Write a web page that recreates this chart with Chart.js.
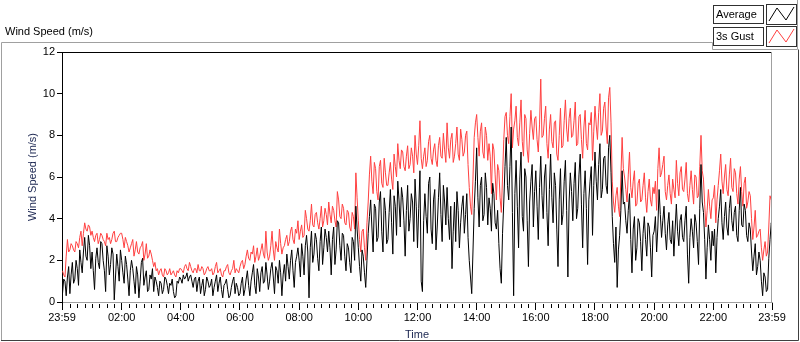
<!DOCTYPE html>
<html>
<head>
<meta charset="utf-8">
<script src="https://cdn.jsdelivr.net/npm/chart.js@4.4.1/dist/chart.umd.min.js"></script>
<style>
  html, body { margin: 0; padding: 0; background: #ffffff; }
  #wrap { position: relative; width: 800px; height: 342px; }
</style>
</head>
<body>
<div id="wrap"><canvas id="c" width="800" height="342"></canvas></div>
<script>
// ---- data (2.5-minute samples, 00:00 .. 24:00; one row per hour) ----
const intervalMinutes = 2.5;
const seriesNames = ["Average", "3s Gust"];
const avgSpeed = [
  0.4,1.1, 1.0,0.3, 1.2,1.7, 0.4,1.3, 1.9,0.9, 1.1,2.0, 1.6,0.8, 2.5,1.9, 1.4,2.4, 3.1,2.2, 2.0,3.2, 2.7,1.6,
  2.4,1.5, 0.6,2.1, 2.6,1.9, 1.6,2.9, 2.8,2.0, 1.5,0.5, 2.7,2.2, 1.3,1.8, 2.6,2.3, 0.1,1.2, 2.3,1.7, 1.0,2.5,
  2.0,1.4, 0.9,2.2, 1.8,1.1, 0.3,1.5, 2.0,1.6, 1.0,0.4, 1.7,1.3, 0.2,1.0, 1.9,2.1, 0.8,1.2, 1.5,0.5, 0.6,1.3,
  1.1,1.6, 0.5,1.2, 1.0,0.7, 0.3,1.0, 0.9,0.4, 0.6,1.2, 1.1,0.8, 0.4,0.9, 0.8,1.1, 0.5,0.2, 0.3,1.0, 0.9,1.2,
  1.1,0.9, 1.3,1.1, 1.2,1.4, 1.0,1.2, 1.3,1.0, 0.7,1.1, 1.2,0.5, 1.0,1.2, 0.4,0.8, 1.1,0.3, 0.6,1.2, 1.0,0.7,
  0.8,1.1, 0.3,0.7, 1.0,1.3, 0.5,0.9, 1.2,0.6, 0.2,0.8, 0.9,1.1, 0.6,0.2, 0.3,0.7, 1.0,1.2, 0.4,0.9, 0.7,0.3,
  0.4,0.9, 1.2,0.3, 0.6,1.1, 1.5,0.8, 0.3,1.0, 1.4,1.8, 0.8,0.4, 1.6,1.2, 0.5,1.4, 1.7,0.9, 1.0,1.9, 1.3,0.6,
  1.0,1.6, 1.9,1.2, 0.4,1.7, 1.5,0.9, 2.0,1.4, 0.3,1.3, 1.8,1.0, 2.3,1.7, 1.1,2.0, 2.5,1.5, 0.7,1.9, 2.2,2.6,
  2.0,1.2, 2.8,2.2, 1.3,2.7, 3.2,2.4, 0.2,2.6, 3.4,1.9, 2.3,3.3, 3.0,2.1, 1.5,2.9, 3.6,1.8, 2.6,3.5, 3.1,2.4,
  3.4,2.6, 1.3,3.0, 3.6,1.8, 2.5,3.9, 3.8,2.7, 2.0,3.3, 3.2,2.2, 1.5,2.8, 2.6,1.9, 1.4,3.1, 2.9,2.0, 4.6,3.5,
  2.6,1.7, 1.0,2.5, 2.2,1.4, 0.7,2.0, 3.3,4.1, 4.9,3.6, 2.4,4.7, 4.5,2.9, 3.1,4.8, 5.3,3.4, 2.4,5.0, 4.4,2.8,
  3.0,4.3, 5.4,3.8, 2.3,5.1, 4.6,3.2, 5.8,4.9, 3.6,5.5, 5.0,3.9, 2.2,4.4, 5.6,3.4, 4.0,5.2, 4.8,2.9, 5.9,4.6,
  2.6,4.5, 6.3,1.0, 0.5,3.9, 5.2,4.1, 3.3,5.7, 6.0,3.5, 2.8,4.9, 5.4,2.5, 3.6,5.0, 6.2,4.2, 2.9,5.6, 4.8,3.7,
  5.5,4.0, 3.0,4.6, 1.6,3.4, 4.8,2.9, 5.3,4.4, 2.6,3.8, 4.6,5.1, 3.3,4.2, 5.2,3.1, 2.0,1.2, 0.4,2.4, 4.5,5.8,
  7.4,5.0, 3.6,5.6, 6.0,3.9, 4.2,6.2, 5.5,3.7, 5.0,4.5, 3.4,5.7, 5.2,3.8, 3.5,4.4, 2.8,1.6, 0.9,3.3, 4.8,6.5,
  7.9,5.6, 4.9,6.5, 8.4,4.3, 0.3,5.2, 6.8,4.6, 2.6,5.9, 7.2,4.1, 3.4,6.4, 6.0,3.9, 1.7,4.8, 5.8,6.6, 3.6,5.3,
  6.3,4.6, 3.0,5.5, 7.0,5.1, 4.0,6.0, 6.6,4.3, 2.7,5.4, 7.1,5.0, 3.8,6.2, 5.6,3.5, 1.7,4.9, 6.4,3.7, 4.2,5.8,
  6.8,4.4, 1.2,4.8, 6.2,5.3, 3.9,5.7, 6.7,4.0, 4.5,6.1, 7.1,4.7, 2.6,5.2, 6.3,4.5, 1.8,4.9, 5.8,6.5, 3.2,5.6,
  7.2,5.8, 4.9,6.6, 7.6,5.0, 5.4,6.9, 7.0,5.6, 5.2,7.4, 8.0,6.2, 4.1,2.8, 1.9,3.6, 0.7,2.5, 3.2,4.4, 6.3,4.7,
  4.8,3.9, 3.3,4.4, 5.2,3.0, 1.4,3.5, 4.1,2.0, 2.6,4.0, 3.8,2.9, 1.5,3.3, 4.1,3.0, 2.2,3.8, 3.6,2.6, 1.2,3.2,
  3.4,4.1, 2.4,3.6, 5.4,4.2, 3.1,3.9, 4.6,3.3, 2.5,3.7, 4.3,3.0, 2.8,3.9, 2.2,3.5, 4.7,3.4, 2.7,3.9, 4.2,3.1,
  2.9,3.9, 4.6,2.3, 0.9,3.1, 4.0,3.4, 2.6,4.2, 3.8,2.9, 1.8,4.5, 6.6,4.8, 4.3,3.0, 1.1,2.6, 3.7,3.0, 2.0,3.4,
  2.7,3.5, 1.4,3.1, 4.0,4.6, 5.4,3.8, 3.0,4.1, 4.8,3.6, 3.2,4.5, 5.1,3.9, 3.4,4.3, 4.6,3.2, 2.9,4.4, 5.5,3.7,
  3.6,4.7, 4.4,3.2, 2.9,3.8, 3.5,2.4, 1.5,2.2, 2.8,1.3, 1.7,2.4, 2.0,1.0, 0.3,1.4, 1.2,0.5, 0.6,2.1, 3.0,3.8,
  3.6
];
const gustSpeed = [
  1.5,1.3, 1.2,2.2, 3.0,2.4, 2.5,2.8, 2.7,2.5, 2.4,2.9, 2.8,2.6, 3.1,3.4, 2.7,3.3, 3.8,3.5, 3.4,3.7, 3.6,3.2,
  3.4,3.1, 2.9,3.2, 3.3,2.8, 3.0,3.3, 3.2,3.0, 2.9,2.7, 3.3,3.0, 3.1,2.8, 3.0,3.3, 3.4,2.9, 2.9,3.1, 3.2,3.3,
  3.3,3.0, 2.6,3.1, 2.9,2.7, 2.4,2.6, 2.8,3.0, 2.2,2.5, 2.9,2.4, 2.3,2.6, 2.7,2.9, 2.0,2.3, 2.8,2.1, 2.2,2.5,
  2.3,2.0, 1.7,1.9, 1.5,1.6, 1.3,1.5, 1.6,1.3, 1.2,1.6, 1.5,1.3, 1.4,1.6, 1.3,1.4, 1.5,1.3, 1.2,1.5, 1.4,1.6,
  1.6,1.5, 1.4,1.7, 1.8,1.6, 1.5,1.9, 1.7,1.5, 1.4,1.6, 1.6,1.4, 1.8,1.5, 1.5,1.7, 1.6,1.3, 1.4,1.6, 1.7,1.5,
  1.5,1.6, 1.3,1.4, 1.7,1.9, 1.4,1.5, 1.6,1.3, 1.2,1.5, 1.5,1.7, 1.8,1.4, 1.3,1.5, 1.6,2.0, 1.4,1.6, 1.5,1.4,
  1.7,1.9, 2.0,1.6, 1.8,2.2, 2.5,2.1, 2.0,2.4, 2.3,2.7, 1.9,2.2, 2.6,2.0, 2.2,2.5, 2.8,2.3, 2.1,3.4, 2.4,2.0,
  2.2,2.7, 3.4,2.5, 2.0,2.9, 2.6,2.4, 3.5,2.8, 2.3,2.6, 2.7,3.0, 3.2,2.7, 2.9,3.4, 3.6,3.0, 2.8,3.5, 3.3,3.9,
  3.0,3.4, 3.7,3.1, 3.2,4.4, 4.0,3.5, 3.4,3.9, 4.7,3.7, 3.6,4.2, 4.3,3.8, 3.5,4.0, 4.6,3.6, 3.9,4.5, 4.2,3.7,
  4.8,4.2, 3.8,4.6, 4.4,3.9, 3.6,5.3, 4.9,4.1, 4.0,4.7, 4.5,3.8, 3.7,4.4, 4.3,3.6, 3.4,4.3, 4.1,3.5, 6.2,5.0,
  3.9,3.0, 2.4,3.4, 3.5,2.6, 2.0,3.8, 4.8,6.1, 7.0,5.8, 5.2,6.7, 6.4,5.3, 4.9,6.5, 6.8,5.7, 5.5,6.9, 6.2,5.6,
  5.6,6.2, 6.7,5.9, 5.4,7.1, 6.5,6.0, 7.6,6.8, 6.4,7.3, 7.2,6.5, 6.3,7.0, 7.5,6.4, 6.6,7.4, 7.0,6.2, 8.0,7.1,
  6.6,7.5, 8.7,6.9, 6.4,7.0, 7.4,6.5, 6.8,7.7, 8.0,6.9, 6.6,7.3, 7.6,6.8, 6.5,7.5, 7.9,7.0, 6.9,8.1, 7.3,6.7,
  8.6,7.4, 6.9,7.8, 8.1,6.7, 7.0,7.6, 8.4,7.1, 6.8,8.3, 7.8,7.0, 7.2,8.0, 8.2,6.6, 5.5,4.6, 4.2,5.9, 7.9,8.6,
  9.0,7.9, 7.0,8.2, 8.6,7.2, 6.9,8.4, 8.0,6.8, 7.6,7.0, 5.2,7.6, 7.3,6.1, 4.9,6.6, 6.3,5.0, 4.3,6.0, 7.8,8.9,
  9.1,8.0, 7.6,8.9, 10.0,7.4, 8.3,8.7, 9.4,7.9, 7.5,8.6, 9.7,7.7, 7.0,9.0, 8.8,7.3, 6.7,8.1, 9.2,8.4, 7.8,8.8,
  8.9,7.8, 7.2,8.5, 10.7,7.9, 8.0,8.8, 9.4,7.6, 6.9,8.3, 9.0,7.7, 7.4,8.6, 8.7,7.1, 6.8,8.0, 9.3,7.4, 7.5,8.7,
  9.7,8.3, 7.7,8.8, 9.3,7.9, 8.0,8.7, 9.6,7.5, 7.6,8.9, 9.0,7.8, 6.9,8.4, 9.2,7.6, 7.3,8.6, 8.5,9.1, 6.8,8.2,
  9.4,8.5, 7.8,9.1, 10.0,8.0, 8.2,9.3, 9.6,8.4, 7.6,9.8, 10.3,8.6, 5.8,4.8, 4.3,5.1, 5.5,4.6, 4.1,6.0, 7.9,6.4,
  6.0,5.4, 4.8,6.1, 7.2,5.5, 5.0,5.8, 6.3,4.6, 4.7,5.7, 5.9,4.8, 4.9,5.6, 6.2,5.0, 4.3,5.3, 5.9,4.9, 4.6,5.5,
  5.2,5.8, 4.4,6.4, 7.4,6.0, 6.2,6.6, 7.0,5.3, 4.9,5.6, 6.1,5.2, 4.7,5.9, 5.4,5.0, 6.8,5.7, 5.1,6.2, 6.5,5.4,
  5.3,5.9, 6.7,5.2, 4.8,5.6, 6.3,5.4, 4.7,6.1, 6.0,5.0, 5.1,6.5, 8.0,6.3, 5.9,4.7, 3.6,4.4, 5.4,4.6, 4.0,4.9,
  5.0,5.6, 3.8,4.9, 5.6,6.3, 7.1,5.8, 5.2,6.0, 6.6,5.4, 5.1,6.1, 6.9,5.5, 5.3,6.4, 6.2,5.2, 4.7,5.9, 6.5,5.3,
  4.6,5.7, 6.0,4.5, 4.8,5.3, 5.1,4.0, 3.0,3.6, 4.4,3.1, 3.2,3.4, 3.5,2.6, 2.0,2.5, 2.9,2.2, 2.4,3.6, 5.1,4.9,
  4.9
];
// tick positions (minutes after midnight) and their labels
const majorTickMinutes = [-1, 120, 240, 360, 480, 600, 720, 840, 960, 1080, 1200, 1320, 1439];
const majorTickLabels  = ["23:59", "02:00", "04:00", "06:00", "08:00", "10:00", "12:00", "14:00", "16:00", "18:00", "20:00", "22:00", "23:59"];
const minorTickStep = 15;
const yTicks = [0, 2, 4, 6, 8, 10, 12];

function toPoints(values) {
  return values.map((v, i) => ({ x: Math.min(i * intervalMinutes, 1439), y: v }));
}

const FONT = "'Liberation Sans', Arial, sans-serif";

const framePlugin = {
  id: 'frame',
  beforeDraw(chart) {
    const ctx = chart.ctx;
    ctx.save();
    ctx.fillStyle = '#ffffff';
    ctx.fillRect(0, 0, chart.width, chart.height);
    ctx.fillStyle = '#000000';
    ctx.font = '11px ' + FONT;
    ctx.textBaseline = 'middle';
    ctx.textAlign = 'left';
    ctx.fillText('Wind Speed (m/s)', 5, 32);
    ctx.lineWidth = 1;
    ctx.strokeStyle = '#a0a0a0';
    ctx.beginPath();
    ctx.moveTo(1.5, 340.5); ctx.lineTo(1.5, 42.5); ctx.lineTo(712.5, 42.5);
    ctx.lineTo(712.5, 49.5); ctx.lineTo(797.5, 49.5);
    ctx.moveTo(797.5, 0); ctx.lineTo(797.5, 49.5);
    ctx.stroke();
    ctx.strokeStyle = '#404040';
    ctx.beginPath();
    ctx.moveTo(1, 340.5); ctx.lineTo(798.5, 340.5); ctx.lineTo(798.5, 49.5);
    ctx.stroke();
    ctx.restore();
  },
  afterDraw(chart) {
    const ctx = chart.ctx;
    const a = chart.chartArea;
    const xs = chart.scales.x;
    ctx.save();
    ctx.lineWidth = 1;
    ctx.strokeStyle = '#000000';
    ctx.beginPath();
    ctx.moveTo(a.left, a.top + 0.5); ctx.lineTo(a.right, a.top + 0.5);
    ctx.stroke();
    ctx.strokeStyle = '#a0a0a0';
    ctx.beginPath();
    ctx.moveTo(a.right - 0.5, a.top); ctx.lineTo(a.right - 0.5, a.bottom);
    ctx.stroke();
    // minor time ticks
    ctx.strokeStyle = '#000000';
    ctx.beginPath();
    for (let m = minorTickStep; m < 1439; m += minorTickStep) {
      if (m % 120 === 0) continue;
      const px = Math.round(xs.getPixelForValue(m)) + 0.5;
      ctx.moveTo(px, a.bottom + 2); ctx.lineTo(px, a.bottom + 6);
    }
    ctx.stroke();
    // legend
    ctx.font = '11px ' + FONT;
    ctx.textBaseline = 'middle';
    ctx.textAlign = 'left';
    chart.data.datasets.forEach((ds, i) => {
      const y0 = 4 + i * 22;
      ctx.fillStyle = '#ffffff';
      ctx.fillRect(713, y0 + 1, 50, 18);
      ctx.strokeStyle = '#303030';
      ctx.strokeRect(713.5, y0 + 1.5, 50, 18);
      ctx.fillStyle = '#000000';
      ctx.fillText(ds.label, 716, y0 + 11);
      ctx.fillStyle = '#ffffff';
      ctx.fillRect(766, y0, 30, 20);
      ctx.strokeStyle = '#303030';
      ctx.strokeRect(766.5, y0 + 0.5, 30, 20);
      ctx.strokeStyle = ds.borderColor;
      ctx.beginPath();
      ctx.moveTo(769, y0 + 17); ctx.lineTo(777, y0 + 4);
      ctx.lineTo(786, y0 + 16); ctx.lineTo(794, y0 + 3);
      ctx.stroke();
    });
    ctx.restore();
  }
};

new Chart(document.getElementById('c'), {
  type: 'line',
  data: {
    datasets: [
      { label: seriesNames[0], data: toPoints(avgSpeed), borderColor: '#000000', borderWidth: 1,
        pointRadius: 0, tension: 0, fill: false },
      { label: seriesNames[1], data: toPoints(gustSpeed), borderColor: '#ff4040', borderWidth: 1,
        pointRadius: 0, tension: 0, fill: false }
    ]
  },
  options: {
    responsive: false,
    animation: false,
    devicePixelRatio: 1,
    layout: { padding: { top: 52, right: 28, left: 0, bottom: 0 } },
    plugins: { legend: { display: false }, tooltip: { enabled: false }, title: { display: false } },
    scales: {
      x: {
        type: 'linear',
        min: -1, max: 1439,
        afterBuildTicks: (s) => { s.ticks = majorTickMinutes.map(v => ({ value: v })); },
        afterFit: (s) => { s.height = 40; },
        ticks: {
          autoSkip: false, maxRotation: 0, minRotation: 0, padding: 1,
          color: '#000000', font: { family: FONT, size: 11 },
          callback: (v) => { const k = majorTickMinutes.indexOf(v); return k >= 0 ? majorTickLabels[k] : ''; }
        },
        grid: { drawOnChartArea: false, drawTicks: true, tickLength: 8, color: '#000000' },
        border: { display: true, color: '#a0a0a0', width: 1 },
        title: { display: true, text: 'Time', color: '#1a2550', font: { family: FONT, size: 11 },
                 padding: { top: 0, bottom: 0 } }
      },
      y: {
        min: 0, max: 12,
        afterBuildTicks: (s) => { s.ticks = yTicks.map(v => ({ value: v })); },
        afterFit: (s) => { s.width = 62; },
        ticks: { color: '#000000', font: { family: FONT, size: 11 }, padding: 2 },
        grid: { drawOnChartArea: false, drawTicks: true, tickLength: 5, color: '#000000' },
        border: { display: true, color: '#000000', width: 1 },
        title: { display: true, text: 'Wind Speed (m/s)', color: '#1a2550', font: { family: FONT, size: 11 },
                 padding: { top: 26, bottom: 0 } }
      }
    }
  },
  plugins: [framePlugin]
});
</script>
</body>
</html>
